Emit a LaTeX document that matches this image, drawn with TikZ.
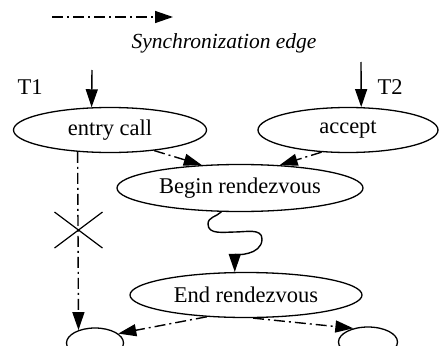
\documentclass[tikz,border=0pt]{standalone}
\usepackage{fontspec}
\setmainfont{Liberation Serif}
\usetikzlibrary{arrows.meta,shapes.geometric}
\begin{document}
\begin{tikzpicture}[x=1pt,y=1pt,
  ell/.style={ellipse,draw,line width=1.3pt,inner sep=0pt,font=\fontsize{22.5}{27}\selectfont},
  sync/.style={line width=1.4pt,dash pattern=on 11pt off 4pt on 2pt off 4pt,-{Triangle[length=18pt,width=12pt]}},
  flow/.style={line width=1.4pt,-{Triangle[length=18pt,width=12pt]}},
  lbl/.style={font=\fontsize{22.5}{27}\selectfont,inner sep=0pt}]
\useasboundingbox (0,0) rectangle (441,-345);
% legend
\coordinate (ls) at (52,-17);
\coordinate (le) at (173,-17);
\draw[sync] (ls) -- (le);
\node[font=\itshape\fontsize{21.5}{26}\selectfont,inner sep=0pt] (legtext) at (224,-43) {Synchronization edge};
% nodes
\node[ell,minimum width=193pt,minimum height=45pt] (entry) at (110,-130) {entry call};
\node[ell,minimum width=180pt,minimum height=45pt] (accept) at (348,-130) {accept};
\node[ell,minimum width=246pt,minimum height=47pt] (begin) at (240,-188) {Begin rendezvous};
\node[ell,minimum width=232pt,minimum height=45pt] (endr) at (246,-295) {End rendezvous};
\node[ell,minimum width=57pt,minimum height=30pt] (sl) at (95,-343) {};
\node[ell,minimum width=59pt,minimum height=30pt] (sr) at (368,-342) {};
% labels
\node[lbl] (t1) at (30,-87) {T1};
\node[lbl] (t2) at (390,-87) {T2};
% thread arrows
\coordinate (t1s) at (92,-70);
\coordinate (t2s) at (361,-62);
\draw[flow] (t1s) -- (entry.129);
\draw[flow] (t2s) -- (accept.60);
% synchronization edges
\draw[sync] (entry.-25) -- (begin.149);
\draw[sync] (accept.220) -- (begin.30);
\draw[sync] (endr.209) -- (sl.22);
\draw[sync] (endr.-73) -- (sr.137);
\draw[sync] (entry.214.5) -- (sl.142);
% wavy rendezvous edge
\draw[flow] (begin.232) to[out=-135,in=90] (208,-224) to[out=-90,in=180] (235,-232)
  to[out=0,in=90] (262,-239) to[out=-90,in=90] (endr.116);
% cross
\coordinate (xc) at (78.5,-230);
\draw[line width=1.2pt] (xc) ++(-24,18) -- ++(48,-36) (xc) ++(-24,-18) -- ++(48,36);
\end{tikzpicture}
\end{document}
